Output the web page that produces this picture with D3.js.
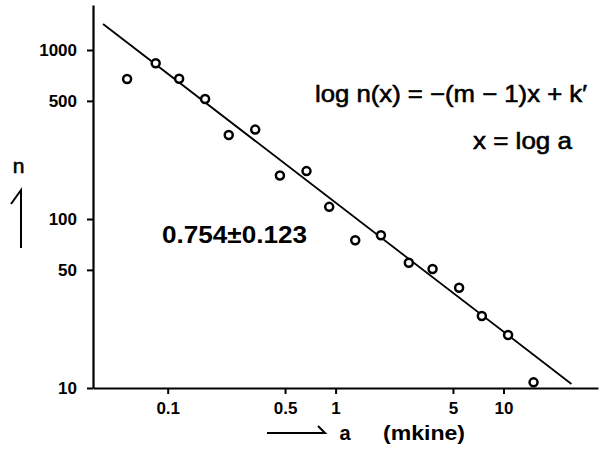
<!DOCTYPE html>
<html>
<head>
<meta charset="utf-8">
<script src="https://cdn.jsdelivr.net/npm/d3@7"></script>
<style>
  body { margin: 0; background: #fff; }
  text { font-family: "Liberation Sans", Arial, sans-serif; fill: #000; }
</style>
</head>
<body>
<svg id="chart" width="602" height="450"></svg>
<script>
// measured points, a in mkine, n counts
var aVals = [0.0573, 0.0848, 0.117, 0.167, 0.231, 0.332, 0.466, 0.671, 0.916,
             1.309, 1.862, 2.73, 3.78, 5.44, 7.43, 10.65, 15.1];
var nVals = [673, 834, 676, 513, 314, 338, 181, 192, 118,
             74.8, 80.2, 55.1, 50.6, 39.2, 26.7, 20.6, 10.8];

// fitted line end points
var fitA = [0.0412, 25.4];
var fitN = [1426, 10.57];

var xTicks = [0.1, 0.5, 1, 5, 10];
var yTicks = [10, 50, 100, 500, 1000];

var svg = d3.select("#chart");

// anchor scales on decades, then stretch out to the axis ends
var x = d3.scaleLog().domain([0.1, 10]).range([167.7, 503.5]);
x.domain([x.invert(93), x.invert(598)]).range([93, 598]);

var y = d3.scaleLog().domain([10, 1000]).range([388, 50]);
y.domain([10, y.invert(5)]).range([388, 5]);

var xAxis = d3.axisBottom(x)
    .tickValues(xTicks)
    .tickSize(6)
    .tickPadding(8)
    .tickSizeOuter(0)
    .tickFormat(function(d) { return String(d); });

var yAxis = d3.axisLeft(y)
    .tickValues(yTicks)
    .tickSize(6)
    .tickPadding(10)
    .tickSizeOuter(0)
    .tickFormat(function(d) { return String(d); });

var gx = svg.append("g")
    .attr("transform", "translate(0,388)")
    .call(xAxis);

var gy = svg.append("g")
    .attr("transform", "translate(93,0)")
    .call(yAxis);

[gx, gy].forEach(function(g) {
  g.select(".domain").attr("stroke", "#000").attr("stroke-width", 2.2);
  g.selectAll(".tick line").attr("stroke", "#000").attr("stroke-width", 2);
  g.selectAll(".tick text")
      .style("font-size", "17px")
      .style("font-weight", "bold")
      .style("font-family", "'Liberation Sans', Arial, sans-serif")
      .attr("fill", "#000");
});

// fit line
var fit = fitA.map(function(d, i) { return [d, fitN[i]]; });
svg.append("path")
    .datum(fit)
    .attr("fill", "none")
    .attr("stroke", "#000")
    .attr("stroke-width", 1.8)
    .attr("d", d3.line()
        .x(function(d) { return x(d[0]); })
        .y(function(d) { return y(d[1]); }));

// points
var pts = aVals.map(function(d, i) { return { a: d, n: nVals[i] }; });
svg.selectAll("circle.pt")
    .data(pts)
    .enter().append("circle")
    .attr("class", "pt")
    .attr("cx", function(d) { return x(d.a); })
    .attr("cy", function(d) { return y(d.n); })
    .attr("r", 4)
    .attr("fill", "#fff")
    .attr("stroke", "#000")
    .attr("stroke-width", 2.5);

// annotations
svg.append("text")
    .attr("x", 315).attr("y", 102)
    .attr("textLength", 272)
    .attr("lengthAdjust", "spacingAndGlyphs")
    .style("font-size", "24px")
    .attr("stroke", "#000").attr("stroke-width", 0.6)
    .text("log n(x) = \u2212(m \u2212 1)x + k\u2032");

svg.append("text")
    .attr("x", 473).attr("y", 149)
    .attr("textLength", 99)
    .attr("lengthAdjust", "spacingAndGlyphs")
    .style("font-size", "24px")
    .attr("stroke", "#000").attr("stroke-width", 0.6)
    .text("x = log a");

svg.append("text")
    .attr("x", 162).attr("y", 243)
    .attr("textLength", 145)
    .attr("lengthAdjust", "spacingAndGlyphs")
    .style("font-size", "24px")
    .style("font-weight", "bold")
    .text("0.754\u00b10.123");

// axis labels with hand drawn arrows
svg.append("text")
    .attr("x", 18.5).attr("y", 173)
    .attr("text-anchor", "middle")
    .style("font-size", "21px")
    .attr("stroke", "#000").attr("stroke-width", 0.6)
    .text("n");

svg.append("path")
    .attr("d", "M21,248 L21,190 L11,204")
    .attr("fill", "none")
    .attr("stroke", "#000")
    .attr("stroke-width", 2);

svg.append("path")
    .attr("d", "M267,433 L325,433 L318,426")
    .attr("fill", "none")
    .attr("stroke", "#000")
    .attr("stroke-width", 2);

svg.append("text")
    .attr("x", 345).attr("y", 440)
    .attr("text-anchor", "middle")
    .style("font-size", "20px")
    .style("font-weight", "bold")
    .text("a");

svg.append("text")
    .attr("x", 383).attr("y", 440)
    .attr("textLength", 82)
    .attr("lengthAdjust", "spacingAndGlyphs")
    .style("font-size", "20px")
    .style("font-weight", "bold")
    .text("(mkine)");
</script>
</body>
</html>
